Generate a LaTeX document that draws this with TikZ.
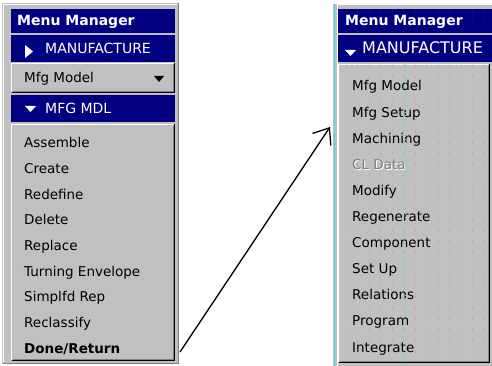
\documentclass[tikz,border=0pt]{standalone}
\usepackage{fontspec}
\setmainfont{DejaVu Sans}
\usetikzlibrary{arrows.meta}

\definecolor{navy}{RGB}{0,0,128}
\definecolor{wingray}{RGB}{192,192,192}
\definecolor{edgegray}{RGB}{128,128,128}
\definecolor{scancyan}{RGB}{60,220,225}

% 3d edge of a raised windows box
\newcommand{\raised}[1]{%
  \draw[black] ([shift={(0.5,-0.5)}]#1.south west) -| ([shift={(-0.5,0.5)}]#1.north east);
  \draw[edgegray] ([shift={(1.5,-1.5)}]#1.south west) -| ([shift={(-1.5,1.5)}]#1.north east);
  \draw[white] ([shift={(0.5,-1.5)}]#1.south west) |- ([shift={(-1.5,0.5)}]#1.north east);
}

\begin{document}
\begin{tikzpicture}[x=1pt,y=-1pt,
  panel/.style={fill=wingray,anchor=north west,inner sep=0pt,outer sep=0pt},
  bar/.style={fill=navy,anchor=north west,inner sep=0pt,outer sep=0pt,minimum height=24pt},
  listbox/.style={fill=wingray,anchor=north west,inner sep=0pt,outer sep=0pt},
  title/.style={text=white,anchor=west,inner sep=0pt,text height=10pt,text depth=0pt,font=\bfseries\fontsize{14}{16}\selectfont},
  bartext/.style={text=white,anchor=west,inner sep=0pt,text height=10pt,text depth=0pt,font=\fontsize{14}{16}\selectfont},
  item/.style={anchor=west,inner sep=0pt,text height=10pt,text depth=0pt,font=\fontsize{13.5}{16}\selectfont},
  dimmed/.style={item,text=edgegray}]
\clip (0,0) rectangle (492,366);

% left menu: MFG MDL
\node[panel,minimum width=177pt,minimum height=361pt] (lframe) at (2,3) {};
\draw[white] (3.5,362) |- (177,4.5);
\draw[edgegray] (2.5,363.5) -| (178.5,3);
\node[bar,minimum width=164pt] (lhead) at (11,9) {};
\node[title] (lheadtxt) at ([xshift=6pt]lhead.west) {Menu Manager};
\node[bar,minimum width=164pt,minimum height=27pt] (lmfg) at (11,35) {};
\fill[white] (25,45) -- (25,58) -- (33,51.5) -- cycle;
\node[bartext] (lmfgtxt) at ([xshift=34pt]lmfg.west) {MANUFACTURE};
\node[listbox,minimum width=164pt,minimum height=30pt] (lbtn) at (11,63) {};
\raised{lbtn}
\node[item] (lbtntxt) at ([xshift=13pt]lbtn.west) {Mfg Model};
\fill (154,76) -- (164,76) -- (159,82) -- cycle;
\node[bar,minimum width=164pt,minimum height=27pt] (lmdl) at (11,95) {};
\fill[white] (25,106) -- (36,106) -- (30.5,112) -- cycle;
\node[bartext] (lmdltxt) at ([xshift=34pt]lmdl.west) {MFG MDL};
\node[listbox,minimum width=164pt,minimum height=237pt] (llist) at (11,124) {};
\raised{llist}
\foreach \txt [count=\i from 0] in {Assemble,Create,Redefine,Delete,Replace,
    Turning Envelope,Simplfd Rep,Reclassify}
  \node[item] (l\i) at (24,143+25.6*\i) {\txt};
\node[item,font=\bfseries\fontsize{13.5}{16}\selectfont] (done) at (24,348) {Done/Return};

% right menu: MANUFACTURE
\node[panel,minimum width=165pt,minimum height=363pt] (rframe) at (333,4) {};
\draw[white] (337,366) |- (492,4.5);
\node[bar,minimum width=154pt] (rhead) at (338,9) {};
\node[title] (rheadtxt) at ([xshift=7pt]rhead.west) {Menu Manager};
\node[bar,minimum width=154pt,minimum height=27pt] (rmfg) at (338,35) {};
\fill[white] (345,50) -- (356,50) -- (350.5,56) -- cycle;
\node[bartext,font=\fontsize{16}{18}\selectfont] (rmfgtxt) at ([xshift=24pt]rmfg.west) {MANUFACTURE};
\node[listbox,minimum width=152pt,minimum height=299pt] (rlist) at (338,64) {};
\raised{rlist}
\node[item,text=white] (rshadow) at (353,165.3) {CL Data};
\foreach \txt/\sty [count=\i from 0] in {Mfg Model/item,Mfg Setup/item,Machining/item,
    CL Data/dimmed,Modify/item,Regenerate/item,Component/item,Set Up/item,
    Relations/item,Program/item,Integrate/item}
  \node[\sty] (r\i) at (352,86+26.1*\i) {\txt};

% scan lines over the right capture
\foreach \x in {346,357.5,...,492}
  \draw[red!80,opacity=.18,line width=1pt,dash pattern=on 3pt off 8pt] (\x,9) -- (\x,363);
\draw[scancyan,line width=1.5pt] (334.5,4) -- (334.5,366);
\draw[scancyan,line width=1pt,dash pattern=on 1pt off 2pt] (405,64) -- (405,366);

% jump from Done/Return to the submenu
\coordinate (tip) at (330,127);
\draw[-{Straight Barb[length=14pt,width=22pt]},line width=1.3pt]
  ([shift={(1,4)}]lframe.east |- done) -- (tip);
\end{tikzpicture}
\end{document}
